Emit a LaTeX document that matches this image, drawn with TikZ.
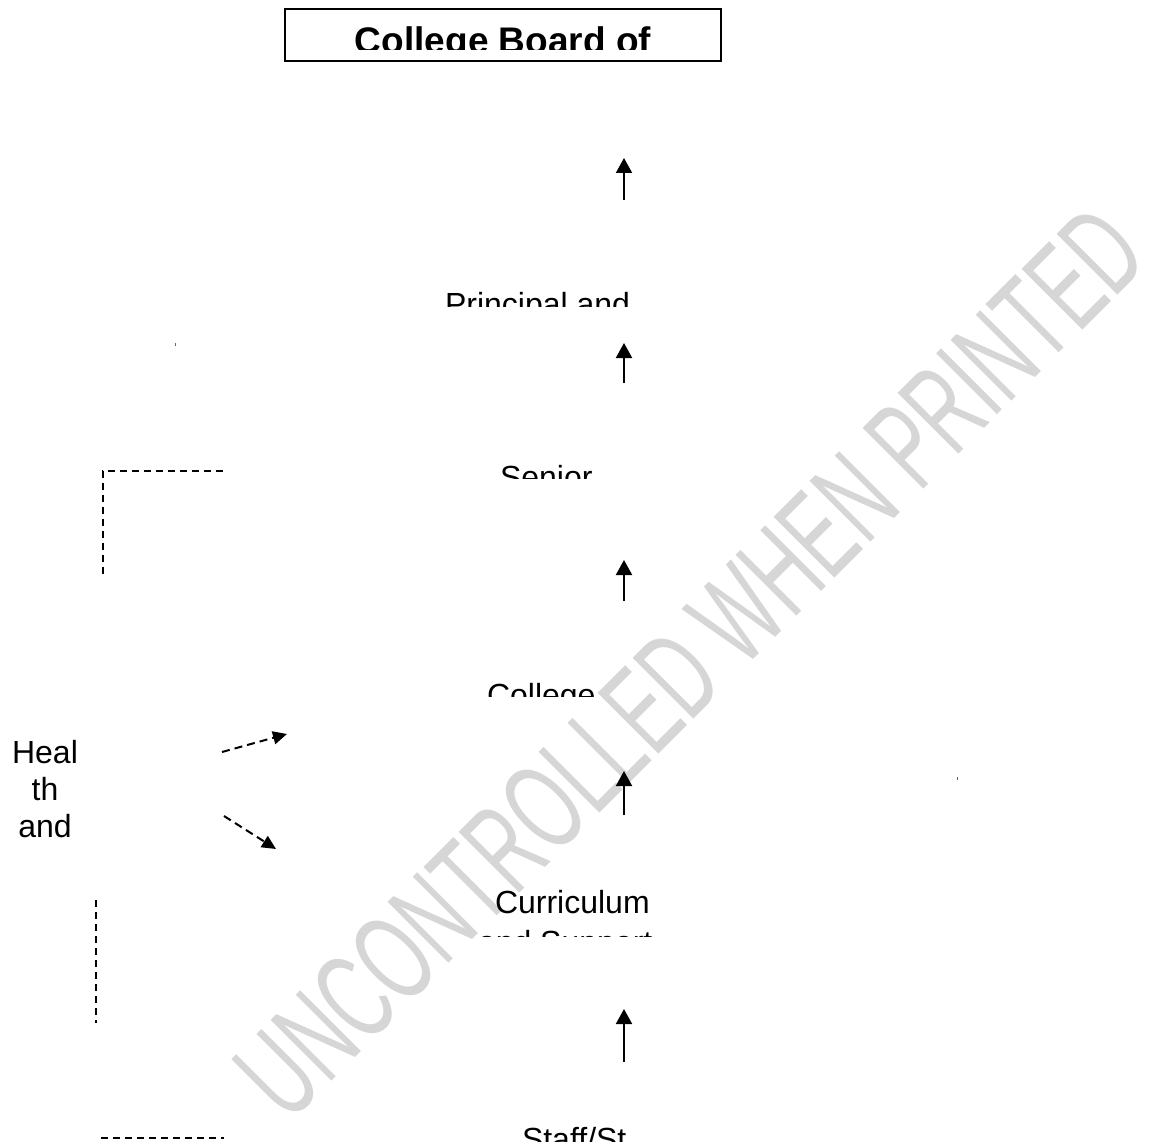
\documentclass[tikz,border=0pt]{standalone}
\usepackage{fontspec}
\setmainfont{Liberation Sans}
\usetikzlibrary{arrows.meta}
\tikzset{
  lbl/.style={inner sep=0pt, outer sep=0pt, anchor=base west, font=\fontsize{32}{37}\selectfont},
  uparrow/.style={line width=2pt, -{Triangle[width=16pt,length=15pt]}},
  dasharrow/.style={line width=2pt, dash pattern=on 8pt off 5pt, -{Triangle[width=13pt,length=14pt]}},
  dline/.style={line width=1.6pt, dash pattern=on 7pt off 5pt},
  wm/.style={text=black!16, inner sep=0pt, font=\fontsize{125}{130}\selectfont},
  speck/.style={fill=black!60, draw=none}
}
\begin{document}
\begin{tikzpicture}[x=1pt,y=-1pt]
\useasboundingbox[fill=white] (0,0) rectangle (1149,1142);
% watermark
\node[wm, rotate=45] (wmark) at (690,662) {\scalebox{0.6}[1]{UNCONTROLLED WHEN PRINTED}};
% top box
\draw[line width=1.5pt] (285,9) rectangle (721,61);
\begin{scope}
  \clip (285,9) rectangle (721,50);
  \node[lbl, anchor=base, font=\fontsize{37}{42}\selectfont\bfseries] (board) at (503,54) {College Board of};
\end{scope}
% texts clipped
\begin{scope}
  \clip (400,280) rectangle (700,306);
  \node[lbl] (principal) at (445,316) {Principal and};
\end{scope}
\begin{scope}
  \clip (400,450) rectangle (700,478);
  \node[lbl] (senior) at (500,488) {Senior};
\end{scope}
\begin{scope}
  \clip (400,670) rectangle (700,696);
  \node[lbl] (college) at (487,706) {College};
\end{scope}
\begin{scope}
  \clip (400,870) rectangle (700,936);
  \node[lbl] (curr) at (495,913) {Curriculum};
  \node[lbl] (support) at (478,953) {and Support};
\end{scope}
\begin{scope}
  \clip (400,1110) rectangle (632,1142);
  \node[lbl] (staff) at (522,1150) {Staff/St};
\end{scope}
% left column
\node[lbl, anchor=base] (heal) at (45,763) {Heal};
\node[lbl, anchor=base] (th) at (45,800) {th};
\node[lbl, anchor=base] (and) at (45,837) {and};
% vertical arrows
\coordinate (a1t) at (624,200); \coordinate (a1h) at (624,158);
\coordinate (a2t) at (624,383); \coordinate (a2h) at (624,343);
\coordinate (a3t) at (624,601); \coordinate (a3h) at (624,560);
\coordinate (a4t) at (624,815); \coordinate (a4h) at (624,771);
\coordinate (a5t) at (624,1062); \coordinate (a5h) at (624,1009);
\draw[uparrow] (a1t) -- (a1h);
\draw[uparrow] (a2t) -- (a2h);
\draw[uparrow] (a3t) -- (a3h);
\draw[uparrow] (a4t) -- (a4h);
\draw[uparrow] (a5t) -- (a5h);
% dashed arrows
\coordinate (d1t) at (222,752); \coordinate (d1h) at (287,734);
\coordinate (d2t) at (224,816); \coordinate (d2h) at (276,849);
\draw[dasharrow] (d1t) -- (d1h);
\draw[dasharrow] (d2t) -- (d2h);
% dashed lines
\coordinate (l1a) at (223,471); \coordinate (l1b) at (103,471); \coordinate (l1c) at (103,574);
\draw[dline] (l1a) -- (l1b) -- (l1c);
\coordinate (l2a) at (96,900); \coordinate (l2b) at (96,1023);
\draw[dline] (l2a) -- (l2b);
\coordinate (l3a) at (101,1138); \coordinate (l3b) at (224,1138);
\draw[dline] (l3a) -- (l3b);
% specks
\fill[speck] (174.5,343) rectangle (176,346);
\fill[speck] (956.5,777) rectangle (958,780);
\end{tikzpicture}
\end{document}
